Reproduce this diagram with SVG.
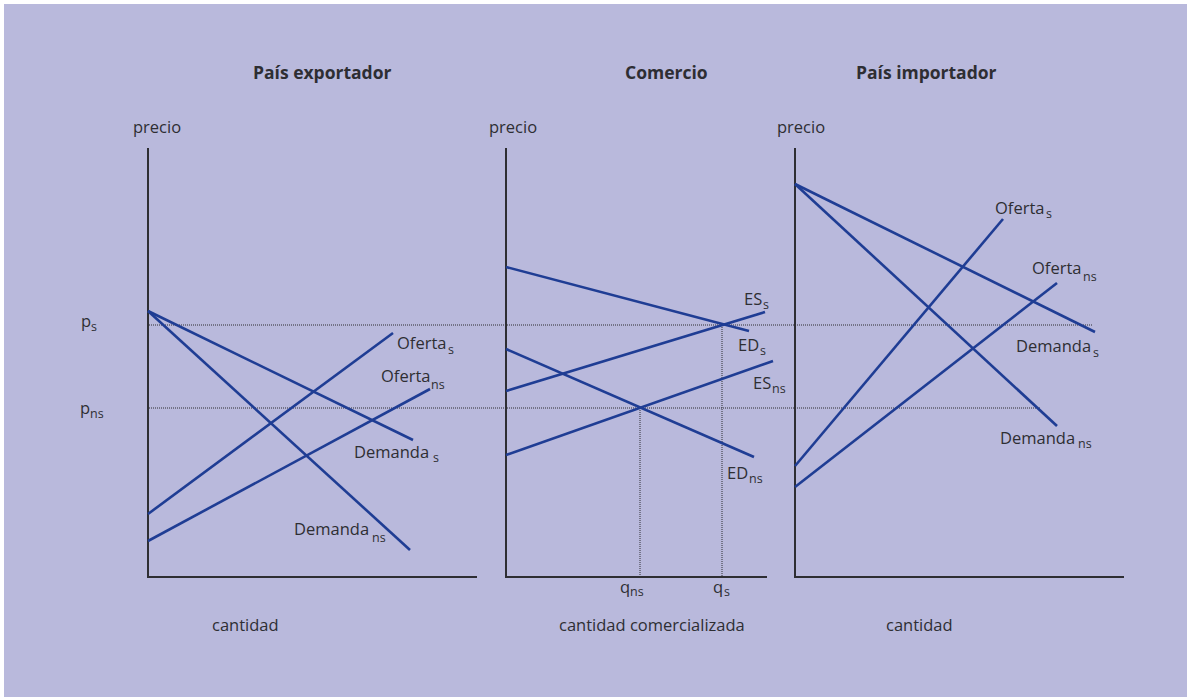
<svg xmlns="http://www.w3.org/2000/svg" width="1187" height="697" viewBox="0 0 1187 697">
<style>
text{font-family:"Open Sans","Noto Sans","Liberation Sans",sans-serif;fill:#2e2e33;font-size:16.5px}
.t{font-weight:bold;font-size:17.5px}
.sub{font-size:12.5px}
.ax{stroke:#2e2e33;stroke-width:2;fill:none}
.c{stroke:#1f3d94;stroke-width:2.6;fill:none;stroke-linecap:butt}
.dot{stroke:#2e2e33;stroke-width:1;stroke-dasharray:1 1;fill:none}
</style>
<rect x="0" y="0" width="1187" height="697" fill="#ffffff"/>
<rect x="4" y="4" width="1183" height="693" fill="#b9b9dc"/>

<g id="guides">
<line class="dot" x1="149" y1="325" x2="1092" y2="325"/>
<line class="dot" x1="149" y1="408" x2="1040" y2="408"/>
<line class="dot" x1="640" y1="408" x2="640" y2="576"/>
<line class="dot" x1="722" y1="325" x2="722" y2="576"/>
</g>

<g id="titles">
<text class="t" x="253" y="79">País exportador</text>
<text class="t" x="625" y="79">Comercio</text>
<text class="t" x="856" y="79">País importador</text>
</g>

<g id="panel-exportador">
<text x="133" y="133">precio</text>
<path class="ax" d="M148,148 V577 H477"/>
<text x="81" y="327">p<tspan class="sub" x="91" y="331">s</tspan></text>
<text x="80" y="414">p<tspan class="sub" x="90" y="418">ns</tspan></text>
<line class="c" x1="148" y1="311" x2="413" y2="440"/>
<line class="c" x1="148" y1="311" x2="410" y2="550"/>
<line class="c" x1="148" y1="514" x2="393" y2="333"/>
<line class="c" x1="148" y1="541" x2="430" y2="389"/>
<text x="397" y="349">Oferta<tspan class="sub" x="448" y="354">s</tspan></text>
<text x="381" y="382">Oferta<tspan class="sub" x="431" y="389">ns</tspan></text>
<text x="354" y="458">Demanda<tspan class="sub" x="433" y="462">s</tspan></text>
<text x="294" y="535">Demanda<tspan class="sub" x="372" y="542">ns</tspan></text>
<text x="212" y="631">cantidad</text>
</g>

<g id="panel-comercio">
<text x="489" y="133">precio</text>
<path class="ax" d="M506,148 V577 H767"/>
<line class="c" x1="506" y1="267" x2="749" y2="331"/>
<line class="c" x1="506" y1="391" x2="765" y2="312"/>
<line class="c" x1="506" y1="349" x2="754" y2="457"/>
<line class="c" x1="506" y1="455" x2="773" y2="361"/>
<text x="744" y="305">ES<tspan class="sub" x="763" y="309">s</tspan></text>
<text x="738" y="351">ED<tspan class="sub" x="760" y="355">s</tspan></text>
<text x="753" y="389">ES<tspan class="sub" x="772" y="393">ns</tspan></text>
<text x="727" y="479">ED<tspan class="sub" x="749" y="483">ns</tspan></text>
<text x="620" y="593">q<tspan class="sub" x="630" y="596">ns</tspan></text>
<text x="713" y="593">q<tspan class="sub" x="724" y="596">s</tspan></text>
<text x="559" y="631">cantidad comercializada</text>
</g>

<g id="panel-importador">
<text x="777" y="133">precio</text>
<path class="ax" d="M795,148 V577 H1124"/>
<line class="c" x1="795" y1="184" x2="1095" y2="332"/>
<line class="c" x1="795" y1="184" x2="1057" y2="426"/>
<line class="c" x1="795" y1="466" x2="1003" y2="219"/>
<line class="c" x1="795" y1="487" x2="1057" y2="283"/>
<text x="995" y="214">Oferta<tspan class="sub" x="1046" y="218">s</tspan></text>
<text x="1032" y="274">Oferta<tspan class="sub" x="1083" y="281">ns</tspan></text>
<text x="1016" y="352">Demanda<tspan class="sub" x="1093" y="357">s</tspan></text>
<text x="1000" y="444">Demanda<tspan class="sub" x="1078" y="448">ns</tspan></text>
<text x="886" y="631">cantidad</text>
</g>
</svg>
